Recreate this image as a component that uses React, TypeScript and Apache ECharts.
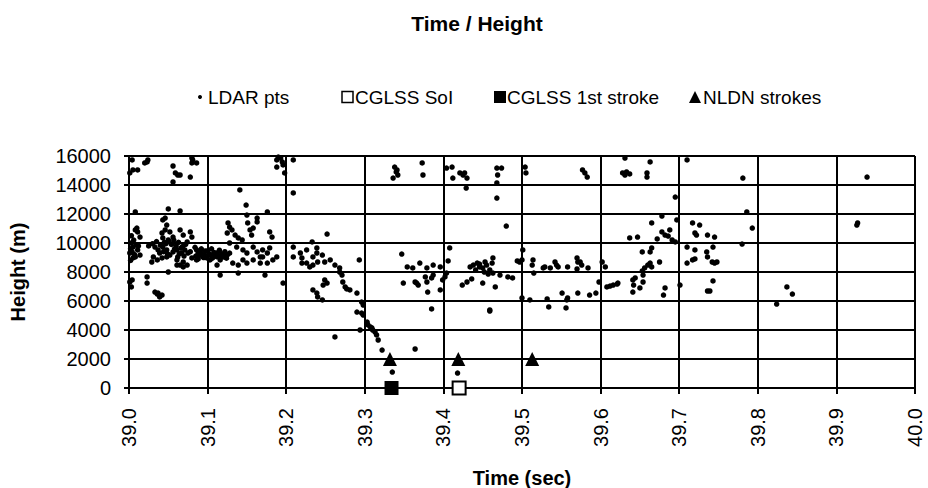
import React, { useEffect, useRef } from "react";
import * as echarts from "echarts";

const chartTitle = "Time / Height";
const xAxisName = "Time (sec)";
const yAxisName = "Height (m)";
const legendNames = ["LDAR pts", "CGLSS SoI", "CGLSS 1st stroke", "NLDN strokes"];

const xMin = 39.0;
const xMax = 40.0;
const xStep = 0.1;
const yMin = 0;
const yMax = 16000;
const yStep = 2000;

// LDAR points: [time (s), height (m)]
const ldarPts: [number, number][] = [
  // upper band, early
  [39.001, 14830], [39.005, 15040], [39.011, 15040], [39.020, 15520], [39.023, 15590], [39.024, 15730],
  [39.004, 15730], [39.056, 15310], [39.059, 14830], [39.062, 14690], [39.056, 14210], [39.065, 14690],
  [39.078, 14550], [39.080, 15860], [39.081, 15730], [39.080, 15520], [39.086, 15520], [39.141, 13660],
  [39.149, 12620], [39.188, 15730], [39.188, 15240], [39.195, 15590], [39.196, 15380], [39.198, 14830],
  [39.190, 15930], [39.193, 15860], [39.209, 15730], [39.209, 13450],
  // ~12000
  [39.050, 12350], [39.065, 12210], [39.008, 12140], [39.176, 12140], [39.163, 11720], [39.046, 11720],
  [39.150, 11930],
  // left column
  [39.010, 11030], [39.011, 10760], [39.014, 10410], [39.008, 10900], [39.005, 9720], [39.004, 9380],
  [39.008, 9040], [39.011, 9520], [39.001, 9310], [39.005, 8970], [39.014, 9170], [39.003, 10000],
  [39.009, 9860], [39.004, 7450], [39.003, 6970], [39.001, 7310],
  [39.002, 9600], [39.006, 10200], [39.003, 10500], [39.007, 9200], [39.012, 9800], [39.002, 8800],
  // low early
  [39.023, 7660], [39.023, 7240], [39.033, 6620], [39.037, 6550], [39.042, 6410], [39.039, 6280],
  [39.036, 6480],
  // dense cluster
  [39.043, 11590], [39.048, 11240], [39.046, 10900], [39.042, 10690], [39.052, 10760], [39.056, 10410],
  [39.050, 10210], [39.043, 10350], [39.065, 10900], [39.069, 10550], [39.078, 10760], [39.080, 10410],
  [39.074, 10070], [39.033, 9720], [39.037, 9520], [39.039, 9310], [39.043, 9720], [39.048, 9520],
  [39.052, 9170], [39.056, 9380], [39.061, 9520], [39.062, 9040], [39.067, 9310], [39.031, 9040],
  [39.036, 8830], [39.042, 8970], [39.071, 9520], [39.075, 9310], [39.080, 8970], [39.086, 9520],
  [39.090, 9170], [39.094, 9040], [39.099, 8970], [39.103, 8830], [39.107, 9040], [39.112, 9310],
  [39.116, 8970], [39.120, 9040], [39.125, 9170], [39.126, 11380], [39.128, 11100], [39.131, 10900],
  [39.125, 10690], [39.135, 10550], [39.139, 10350], [39.144, 10210], [39.151, 11380], [39.154, 10900],
  [39.156, 10550], [39.158, 11030], [39.163, 11450], [39.179, 10760], [39.182, 10410], [39.128, 10000],
  [39.137, 9720], [39.145, 9520], [39.150, 9310], [39.158, 9720], [39.163, 9380], [39.167, 9040],
  [39.170, 9520], [39.176, 9310], [39.179, 9660], [39.183, 8830], [39.188, 9040], [39.209, 9720],
  [39.218, 9310], [39.226, 9520], [39.234, 9040], [39.239, 9660], [39.220, 8620], [39.029, 8690],
  [39.048, 9040], [39.061, 8830], [39.065, 8480], [39.069, 8690], [39.074, 8480], [39.086, 8830],
  [39.112, 8480], [39.116, 8830], [39.132, 8620], [39.139, 8480], [39.145, 8830], [39.150, 8620],
  [39.158, 8830], [39.167, 8620], [39.170, 9040], [39.176, 8620], [39.209, 9040], [39.220, 8970],
  [39.226, 8620], [39.234, 8480], [39.239, 9310], [39.050, 8000], [39.061, 8480], [39.069, 8350],
  [39.116, 7790], [39.139, 7930], [39.173, 7790], [39.196, 7240],
  [39.060, 9800], [39.066, 9650], [39.072, 9900], [39.078, 9400], [39.084, 9700], [39.088, 9300],
  [39.092, 9600], [39.096, 9200], [39.100, 9450], [39.104, 9150], [39.108, 9350], [39.112, 9050],
  [39.118, 9250], [39.122, 9400], [39.095, 9000], [39.085, 9100], [39.105, 9600], [39.115, 9500],
  [39.070, 9100], [39.064, 9250], [39.058, 9600], [39.054, 9900], [39.045, 10050], [39.040, 9850],
  [39.035, 10100], [39.030, 9950], [39.025, 9800],
  [39.091, 9350], [39.097, 9450], [39.102, 9250], [39.106, 8950], [39.110, 9200], [39.114, 9100],
  [39.119, 9150], [39.124, 8950], [39.128, 9300], [39.088, 8900],
  [39.047, 9950], [39.051, 10100], [39.057, 10200], [39.063, 10050], [39.068, 9750], [39.044, 9400],
  [39.049, 9250],
  // 39.23 - 39.32 and descent
  [39.252, 10620], [39.233, 10070], [39.246, 9170], [39.256, 8830], [39.262, 8480], [39.249, 8690],
  [39.268, 8280], [39.230, 8350], [39.240, 8690], [39.293, 8830], [39.268, 8000], [39.271, 7790],
  [39.249, 7450], [39.252, 7240], [39.247, 7100], [39.234, 6760], [39.239, 6550], [39.240, 6280],
  [39.246, 6070], [39.272, 7310], [39.275, 6970], [39.277, 6830], [39.281, 6760], [39.290, 6550],
  [39.296, 5930], [39.298, 5720], [39.290, 5240], [39.296, 5170], [39.298, 5030], [39.303, 4550],
  [39.304, 4350], [39.307, 4210], [39.309, 4140], [39.310, 4000], [39.313, 3860], [39.315, 3660],
  [39.317, 3310], [39.294, 4000], [39.262, 3520], [39.322, 2620], [39.364, 2690], [39.335, 1100],
  [39.418, 1030],
  // upper band, later
  [39.338, 15240], [39.341, 15040], [39.342, 14690], [39.336, 14480], [39.340, 14900], [39.373, 15520],
  [39.374, 14690], [39.404, 15170], [39.411, 15240], [39.421, 14830], [39.425, 14690], [39.427, 14830],
  [39.430, 14480], [39.412, 14480], [39.429, 13790], [39.468, 13100], [39.468, 15170], [39.474, 15170],
  [39.469, 14690], [39.468, 14140], [39.504, 15240], [39.505, 14830], [39.577, 15040], [39.580, 14830],
  [39.583, 14550], [39.631, 15860], [39.628, 14830], [39.633, 14900], [39.631, 14690], [39.637, 14760],
  [39.659, 14830], [39.659, 14550], [39.663, 15590], [39.710, 15730], [39.695, 13170], [39.781, 14480],
  [39.939, 14550],
  // 39.34 - 39.47 middle
  [39.347, 9240], [39.354, 8350], [39.361, 8280], [39.370, 8620], [39.379, 8280], [39.387, 8480],
  [39.396, 8350], [39.408, 9660], [39.406, 8760], [39.434, 8350], [39.438, 8480], [39.443, 8620],
  [39.446, 8350], [39.450, 8280], [39.455, 8480], [39.459, 8140], [39.462, 8620], [39.463, 7930],
  [39.463, 8970], [39.349, 7240], [39.364, 7310], [39.366, 7240], [39.368, 7100], [39.377, 7660],
  [39.379, 7310], [39.385, 7590], [39.387, 7790], [39.380, 6620], [39.396, 6760], [39.399, 7450],
  [39.402, 7660], [39.404, 7930], [39.385, 5450], [39.424, 7100], [39.430, 7310], [39.436, 7520],
  [39.450, 7240], [39.459, 5310], [39.441, 8140], [39.453, 8690],
  // 39.47 - 39.6
  [39.480, 11170], [39.501, 9520], [39.497, 8690], [39.514, 8830], [39.513, 8480], [39.527, 8280],
  [39.536, 8280], [39.544, 8480], [39.558, 8350], [39.570, 8970], [39.571, 8690], [39.584, 8280],
  [39.602, 8690], [39.446, 8550], [39.452, 8000], [39.457, 7860], [39.466, 6970], [39.482, 7660],
  [39.488, 7590], [39.472, 7790], [39.459, 5380], [39.494, 8760], [39.500, 8830], [39.500, 6210],
  [39.510, 6070], [39.515, 7930], [39.529, 8350], [39.542, 8690], [39.546, 8350], [39.574, 8690],
  [39.576, 8480], [39.570, 8210], [39.532, 6140], [39.534, 5590], [39.551, 6550], [39.558, 6210],
  [39.557, 6070], [39.556, 5520], [39.571, 6550], [39.586, 6410], [39.594, 6550], [39.606, 8350],
  [39.598, 7310],
  // 39.6 - 39.95
  [39.608, 6970], [39.612, 7030], [39.616, 7100], [39.621, 7170], [39.622, 7240], [39.641, 7450],
  [39.642, 7100], [39.644, 7590], [39.641, 6620], [39.650, 6900], [39.654, 7310], [39.654, 7790],
  [39.653, 8070], [39.660, 8480], [39.663, 8620], [39.665, 8350], [39.675, 8690], [39.653, 9380],
  [39.663, 9380], [39.682, 6900], [39.680, 6410], [39.701, 7100], [39.710, 8620], [39.717, 8830],
  [39.665, 11380], [39.678, 11860], [39.697, 11590], [39.688, 10900], [39.678, 10760], [39.682, 10550],
  [39.637, 10350], [39.647, 10410], [39.672, 10280], [39.686, 10480], [39.691, 10210], [39.695, 10070],
  [39.665, 9660], [39.717, 11380], [39.722, 10550], [39.710, 9720], [39.656, 8280], [39.726, 11240],
  [39.720, 10690], [39.736, 10550], [39.745, 10410], [39.780, 9930], [39.720, 9520], [39.735, 9380],
  [39.743, 9720], [39.736, 9040], [39.720, 8900], [39.742, 8690], [39.745, 8620], [39.748, 8690],
  [39.743, 7380], [39.736, 6690], [39.739, 6690], [39.786, 12140], [39.793, 11030], [39.926, 11240],
  [39.927, 11380], [39.837, 6970], [39.844, 6480], [39.824, 5790],
];

const cglssSoi: [number, number][] = [[39.42, 0]];
const cglssFirst: [number, number][] = [[39.334, 0]];
const nldnStrokes: [number, number][] = [[39.332, 2000], [39.419, 2000], [39.513, 2000]];

const FONT = "'Liberation Sans', Arial, Helvetica, sans-serif";

export default function App() {
  const ref = useRef<HTMLDivElement>(null);
  useEffect(() => {
    if (!ref.current) return;
    const chart = echarts.init(ref.current, undefined, { renderer: "svg" });
    const black = "#000";
    const legendY = 97;
    chart.setOption({
      animation: false,
      backgroundColor: "#fff",
      textStyle: { fontFamily: FONT, color: black },
      title: {
        text: chartTitle,
        left: 472,
        textAlign: "center",
        top: 8,
        textStyle: { fontSize: 21, fontWeight: "bold", color: black, fontFamily: FONT },
      },
      graphic: [
        { type: "circle", shape: { cx: 200, cy: legendY, r: 2 }, style: { fill: black } },
        { type: "text", x: 208, y: legendY, style: { text: legendNames[0], fontSize: 19, fontFamily: FONT, fill: black, verticalAlign: "middle" } },
        { type: "rect", shape: { x: 342, y: legendY - 5.5, width: 11, height: 11 }, style: { fill: "#fff", stroke: black, lineWidth: 1.5 } },
        { type: "text", x: 355, y: legendY, style: { text: legendNames[1], fontSize: 19, fontFamily: FONT, fill: black, verticalAlign: "middle" } },
        { type: "rect", shape: { x: 494, y: legendY - 6, width: 12, height: 12 }, style: { fill: black } },
        { type: "text", x: 507, y: legendY, style: { text: legendNames[2], fontSize: 19, fontFamily: FONT, fill: black, verticalAlign: "middle" } },
        { type: "polygon", shape: { points: [[689, legendY + 6], [701, legendY + 6], [695, legendY - 6]] }, style: { fill: black } },
        { type: "text", x: 703, y: legendY, style: { text: legendNames[3], fontSize: 19, fontFamily: FONT, fill: black, verticalAlign: "middle" } },
      ],
      grid: { left: 129, right: 13, top: 156, bottom: 100, containLabel: false, outerBoundsMode: "none" },
      xAxis: {
        type: "value",
        min: xMin,
        max: xMax,
        interval: xStep,
        name: xAxisName,
        nameLocation: "middle",
        nameGap: 80,
        nameTextStyle: { fontSize: 20, fontWeight: "bold", color: black, fontFamily: FONT },
        axisLine: { show: true, onZero: false, lineStyle: { color: black, width: 2 } },
        axisTick: { show: true, inside: false, length: 6, lineStyle: { color: black, width: 2 } },
        axisLabel: {
          rotate: 90,
          fontSize: 20,
          color: black,
          margin: 20,
          formatter: (v: number) => v.toFixed(1),
        },
        splitLine: { show: true, lineStyle: { color: black, width: 2 } },
      },
      yAxis: {
        type: "value",
        min: yMin,
        max: yMax,
        interval: yStep,
        name: yAxisName,
        nameLocation: "middle",
        nameGap: 101,
        nameTextStyle: { fontSize: 20, fontWeight: "bold", color: black, fontFamily: FONT },
        axisLine: { show: true, lineStyle: { color: black, width: 2 } },
        axisTick: { show: true, inside: false, length: 5, lineStyle: { color: black, width: 2 } },
        axisLabel: { fontSize: 20, color: black, margin: 18, formatter: (v: number) => String(v) },
        splitLine: { show: true, lineStyle: { color: black, width: 2 } },
      },
      series: [
        {
          name: legendNames[0],
          type: "scatter",
          data: ldarPts,
          symbol: "circle",
          symbolSize: 5.5,
          itemStyle: { color: black, opacity: 1 },
          silent: true,
          z: 3,
        },
        {
          name: legendNames[1],
          type: "scatter",
          data: cglssSoi,
          symbol: "rect",
          symbolSize: 13,
          itemStyle: { color: "#fff", borderColor: black, borderWidth: 2, opacity: 1 },
          silent: true,
          z: 4,
        },
        {
          name: legendNames[2],
          type: "scatter",
          data: cglssFirst,
          symbol: "rect",
          symbolSize: 14,
          itemStyle: { color: black, opacity: 1 },
          silent: true,
          z: 4,
        },
        {
          name: legendNames[3],
          type: "scatter",
          data: nldnStrokes,
          symbol: "triangle",
          symbolSize: 14,
          itemStyle: { color: black, opacity: 1 },
          silent: true,
          z: 4,
        },
      ],
    });
    return () => chart.dispose();
  }, []);
  return <div ref={ref} style={{ width: 928, height: 488, position: "fixed", left: 0, top: 0 }} />;
}
